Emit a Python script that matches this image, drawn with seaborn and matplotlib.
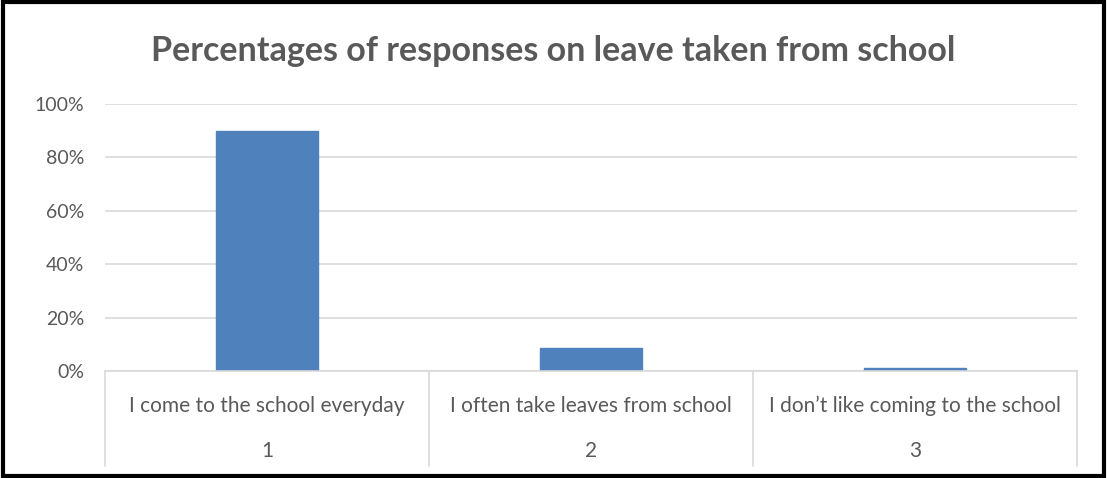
import matplotlib
matplotlib.use("Agg")
import matplotlib.pyplot as plt
import matplotlib.transforms as mtransforms
from matplotlib.ticker import PercentFormatter
import seaborn as sns
import pandas as pd

title = "Percentages of responses on leave taken from school"
categories = ["I come to the school everyday", "I often take leaves from school",
              "I don\u2019t like coming to the school"]
group_labels = ["1", "2", "3"]
values = [90.0, 8.5, 1.0]
y_ticks = [0, 20, 40, 60, 80, 100]

sns.set_theme(style="white")
plt.rcParams["font.family"] = ["Lato", "DejaVu Sans"]

df = pd.DataFrame({"category": categories, "value": values})

fig = plt.figure(figsize=(11.07, 4.78), dpi=100)
ax = fig.add_axes([105/1107, 1 - 371/478, (1077-105)/1107, (371-104)/478])

sns.barplot(data=df, x="category", y="value", color="#4F81BD", width=0.315,
            ax=ax, saturation=1, edgecolor="#4F81BD")

ax.set_ylim(0, 100)
ax.set_xlim(-0.5, 2.5)
ax.set_yticks(y_ticks)
ax.yaxis.set_major_formatter(PercentFormatter(decimals=0))
ax.yaxis.grid(True, color="#D9D9D9", linewidth=1.2)
ax.set_axisbelow(True)
for s in ["top", "right", "left"]:
    ax.spines[s].set_visible(False)
ax.spines["bottom"].set_color("#D9D9D9")
ax.spines["bottom"].set_linewidth(1.2)
ax.set_xlabel("")
ax.set_ylabel("")
ax.tick_params(axis="y", length=0, pad=15, labelsize=14, labelcolor="#595959")
ax.tick_params(axis="x", length=0, pad=18, labelsize=15, labelcolor="#595959")

# second level of category axis
trans = mtransforms.blended_transform_factory(ax.transData, ax.transAxes)
for i, g in enumerate(group_labels):
    ax.text(i, -0.30, g, transform=trans, ha="center", va="center",
            fontsize=15, color="#595959")
# dividers
for xb in [-0.5, 0.5, 1.5, 2.5]:
    ax.plot([xb, xb], [0, -0.355], transform=trans, color="#D9D9D9",
            linewidth=1.2, clip_on=False)

fig.text(0.5, 1 - 51/478, title, ha="center", va="center", fontsize=24.5,
         fontweight="bold", color="#595959")

# outer border
fig.patches.append(plt.Rectangle((0.003, 0.004), 0.994, 0.992, transform=fig.transFigure,
                                 fill=False, edgecolor="black", linewidth=3))

fig.savefig("out.png", dpi=100, facecolor="white")
